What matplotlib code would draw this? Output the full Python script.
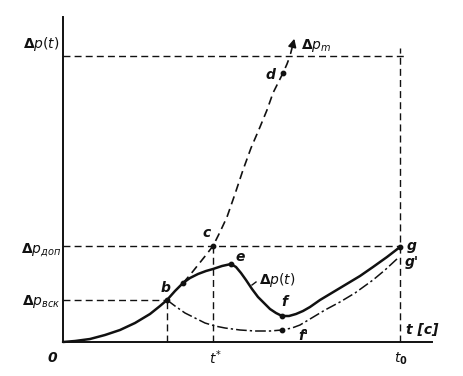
import matplotlib.pyplot as plt

# coordinates (x to the right of origin, y above the t axis)
dp_x = [0, 12, 27, 42, 57, 72, 87, 97, 104, 112, 120, 127, 135, 143, 150, 159, 168,
        173, 178, 183, 189, 195, 201, 207, 213, 219, 226, 233, 240, 247, 257, 267,
        277, 287, 297, 310, 324, 337]
dp_y = [0, 1, 3, 7, 12, 19, 28, 36, 42, 51, 59, 64, 68, 71, 73, 76, 78,
        75, 69, 62, 53, 45, 39, 33, 29, 26, 26, 28, 31, 35, 42, 48,
        54, 60, 66, 75, 85, 95]

dpm_x = [120, 127, 135, 143, 150, 157, 164, 172, 180, 188, 197, 204, 210, 215, 220, 224, 227]
dpm_y = [59, 67, 77, 87, 96, 110, 125, 148, 172, 194, 215, 232, 249, 259, 269, 278, 286]

alt_x = [104, 112, 122, 132, 142, 152, 162, 177, 192, 207, 219, 229, 237, 247, 262,
         277, 292, 310, 322, 335]
alt_y = [42, 36, 29, 24, 19, 16, 14, 12, 11, 11, 12, 14, 17, 23, 32,
         40, 49, 62, 72, 84]

t_star, t_0 = 150, 337
dp_dop, dp_vsk, dp_top = 96, 42, 286

fig = plt.figure(figsize=(4.64, 3.76), dpi=100)
ax = fig.add_axes([0, 0, 1, 1])
ax.set_xlim(-63, 401)
ax.set_ylim(-34, 342)
ax.axis('off')

ink = '#111111'
dash = dict(color=ink, lw=1.0, dashes=(5, 3))

# axes
ax.plot([0, 0], [0, 325], color=ink, lw=1.4)
ax.plot([0, 369], [0, 0], color=ink, lw=1.4)

# guide lines
ax.plot([0, t_0 + 5], [dp_top, dp_top], **dash)
ax.plot([t_0, t_0], [0, dp_top + 8], **dash)
ax.plot([0, t_0], [dp_dop, dp_dop], **dash)
ax.plot([t_star, t_star], [0, dp_dop], **dash)
ax.plot([0, dp_x[8]], [dp_vsk, dp_vsk], **dash)
ax.plot([dp_x[8], dp_x[8]], [0, dp_vsk], **dash)

# curves
ax.plot(dp_x, dp_y, color=ink, lw=1.8, solid_capstyle='round', solid_joinstyle='round')
ax.plot(dpm_x, dpm_y, color=ink, lw=1.2, dashes=(5, 3))
ax.plot(alt_x, alt_y, color=ink, lw=1.1, dashes=(7, 2, 1.5, 2))
ax.annotate('', xy=(232, 306), xytext=(227, 286),
            arrowprops=dict(arrowstyle='-|>', color=ink, lw=1.2, mutation_scale=12))

# points: b, branch point, c, d, e, f, f', g
pts_x = [104, 120, 150, 220, 168, 219, 219, 337]
pts_y = [42, 59, 96, 269, 78, 26, 12, 95]
ax.scatter(pts_x, pts_y, s=10, color=ink, zorder=5)

fs = 10
txt = dict(color=ink, fontsize=fs, fontweight='bold', style='italic', ha='center', va='center')
ax.text(-22, 298, r'$\mathbf{\Delta} p(t)$', **txt)
ax.text(-22, 92, r'$\mathbf{\Delta} p_{доп}$', **txt)
ax.text(-22, 40, r'$\mathbf{\Delta} p_{вск}$', **txt)
ax.text(-11, -16, '0', **txt)
ax.text(t_star + 2, -16, r'$t^{*}$', **txt)
ax.text(t_0 + 1, -17, r'$t_{\mathbf{0}}$', **txt)
ax.text(359, 12, 't [c]', **txt)
ax.text(253, 297, r'$\mathbf{\Delta} p_m$', **txt)
ax.text(207, 267, 'd', **txt)
ax.text(144, 109, 'c', **txt)
ax.text(177, 85, 'e', **txt)
ax.text(103, 54, 'b', **txt)
ax.text(214, 62, r'$\mathbf{\Delta} p(t)$', **txt)
ax.plot([189, 193], [57, 60], color=ink, lw=1.0)
ax.text(221, 40, 'f', **txt)
ax.text(240, 6, "f'", **txt)
ax.text(349, 96, 'g', **txt)
ax.text(349, 80, "g'", **txt)

fig.savefig('out.png', dpi=100)
